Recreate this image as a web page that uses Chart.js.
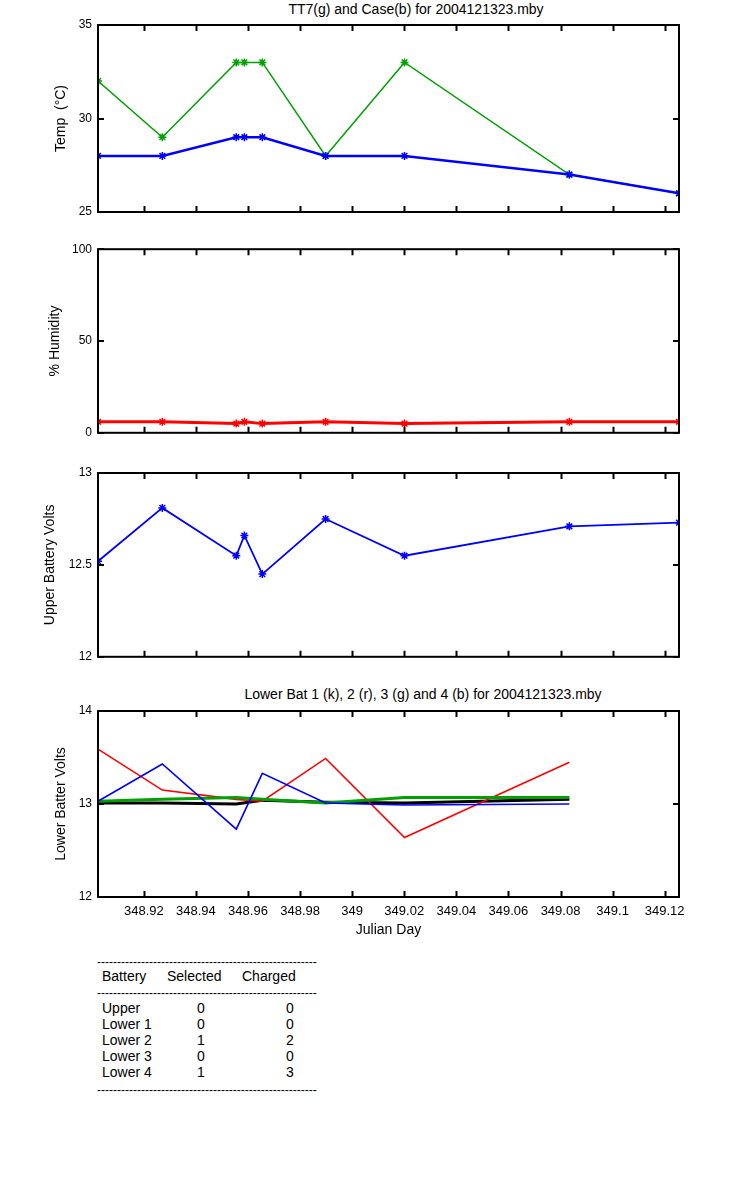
<!DOCTYPE html>
<html>
<head>
<meta charset="utf-8">
<title>TT7 and Case for 2004121323.mby</title>
<script src="https://cdn.jsdelivr.net/npm/chart.js@4.4.1/dist/chart.umd.min.js"></script>
<style>
    body { margin: 0; background: #fff; }
    #page { position: relative; width: 750px; height: 1200px; font-family: "Liberation Sans", Arial, sans-serif; color: #000; }
    canvas { position: absolute; left: 0; }
    .label { position: absolute; white-space: pre; font-size: 14px; line-height: 16px; }
    .dash { position: absolute; white-space: pre; font-size: 12px; line-height: 16px; }
    .title { position: absolute; white-space: pre; font-size: 14px; line-height: 16px; transform: translateX(-50%); }
</style>
</head>
<body>
<div id="page">
    <div class="title" style="left:416px; top:1px;">TT7(g) and Case(b) for 2004121323.mby</div>
    <canvas id="tempChart" width="750" height="240" style="top:0px"></canvas>
    <canvas id="humidityChart" width="750" height="210" style="top:236px"></canvas>
    <canvas id="upperChart" width="750" height="220" style="top:450px"></canvas>
    <div class="title" style="left:423px; top:686px;">Lower Bat 1 (k), 2 (r), 3 (g) and 4 (b) for 2004121323.mby</div>
    <canvas id="lowerChart" width="750" height="265" style="top:680px"></canvas>
    <div id="statusTable"></div>
</div>
<script>
// Sample times (Julian day) for the upper three panels
const julianDay = [348.9024, 348.9271, 348.9555, 348.9586, 348.9655, 348.9898, 349.0201, 349.0834, 349.1255];
const tt7Temp = [32, 29, 33, 33, 33, 28, 33, 27, 26];
const caseTemp = [28, 28, 29, 29, 29, 28, 28, 27, 26];
const humidity = [6, 6, 5, 6, 5, 6, 5, 6, 6];
const upperVolts = [12.52, 12.81, 12.55, 12.66, 12.45, 12.75, 12.55, 12.71, 12.73];

// Lower battery readings (fewer samples)
const lowerDay = [348.9024, 348.9271, 348.9555, 348.9655, 348.9898, 349.0201, 349.0834];
const lowerBat1 = [13.01, 13.01, 13.0, 13.04, 13.02, 13.01, 13.05];
const lowerBat2 = [13.59, 13.15, 13.05, 13.03, 13.49, 12.64, 13.45];
const lowerBat3 = [13.03, 13.05, 13.07, 13.05, 13.01, 13.07, 13.07];
const lowerBat4 = [13.03, 13.43, 12.73, 13.33, 13.01, 12.99, 13.0];

// Axis ticks
const xTicks = [348.92, 348.94, 348.96, 348.98, 349, 349.02, 349.04, 349.06, 349.08, 349.1, 349.12];
const tempTicks = [25, 30, 35];
const humidityTicks = [0, 50, 100];
const upperTicks = [12, 12.5, 13];
const lowerTicks = [12, 13, 14];

// Charge status table
const batteryNames = ["Upper", "Lower 1", "Lower 2", "Lower 3", "Lower 4"];
const selectedCounts = [0, 0, 1, 0, 1];
const chargedCounts = [0, 0, 2, 0, 3];

const FONT = "'Liberation Sans', Arial, sans-serif";
const GREEN = "#00a000";
const X_MIN = 348.9024;
const X_MAX = 349.1255;

function toPoints(xs, ys) {
    return xs.map((x, i) => ({ x: x, y: ys[i] }));
}

// Box round the plot with inward ticks on all four sides
const framePlugin = {
    id: "frame",
    afterDraw(chart) {
        const ctx = chart.ctx;
        const a = chart.chartArea;
        const xs = chart.scales.x;
        const ys = chart.scales.y;
        ctx.save();
        ctx.strokeStyle = "#000";
        ctx.lineWidth = 2;
        ctx.beginPath();
        xs.ticks.forEach(t => {
            const px = Math.round(xs.getPixelForValue(t.value)) + 0.5;
            ctx.moveTo(px, a.bottom);
            ctx.lineTo(px, a.bottom - 6);
            ctx.moveTo(px, a.top);
            ctx.lineTo(px, a.top + 6);
        });
        ys.ticks.forEach(t => {
            const py = Math.round(ys.getPixelForValue(t.value));
            ctx.moveTo(a.left, py);
            ctx.lineTo(a.left + 6, py);
            ctx.moveTo(a.right, py);
            ctx.lineTo(a.right - 6, py);
        });
        ctx.stroke();
        ctx.strokeRect(a.left, a.top, a.right - a.left, a.bottom - a.top);
        ctx.restore();
    }
};

function makePanel(id, datasets, opts) {
    const ctx = document.getElementById(id).getContext("2d");
    return new Chart(ctx, {
        type: "line",
        data: { datasets: datasets },
        plugins: [framePlugin],
        options: {
            responsive: false,
            animation: false,
            devicePixelRatio: 1,
            layout: { padding: { left: 0, right: 71, top: opts.padTop, bottom: 0 } },
            plugins: { legend: { display: false }, tooltip: { enabled: false }, title: { display: false } },
            elements: { line: { tension: 0 } },
            scales: {
                x: {
                    type: "linear",
                    min: X_MIN,
                    max: X_MAX,
                    afterBuildTicks: scale => { scale.ticks = xTicks.map(v => ({ value: v })); },
                    afterFit: scale => { scale.height = opts.xHeight; },
                    grid: { display: false, drawTicks: false },
                    border: { display: false },
                    ticks: {
                        display: !!opts.showX,
                        padding: 7,
                        color: "#000",
                        font: { family: FONT, size: 13 },
                        maxRotation: 0,
                        autoSkip: false,
                        callback: v => String(Number(v.toFixed(2)))
                    },
                    title: {
                        display: !!opts.showX,
                        text: "Julian Day",
                        color: "#000",
                        font: { family: FONT, size: 14 },
                        padding: { top: 0, bottom: 6 }
                    }
                },
                y: {
                    min: opts.yTicks[0],
                    max: opts.yTicks[opts.yTicks.length - 1],
                    afterBuildTicks: scale => { scale.ticks = opts.yTicks.map(v => ({ value: v })); },
                    afterFit: scale => { scale.width = 98; },
                    grid: { display: false, drawTicks: false },
                    border: { display: false },
                    ticks: {
                        padding: 6,
                        color: "#000",
                        font: { family: FONT, size: 12 },
                        callback: v => String(v)
                    },
                    title: {
                        display: true,
                        text: opts.yTitle,
                        color: "#000",
                        font: { family: FONT, size: 14 },
                        padding: { top: opts.yTitleX, bottom: 0 }
                    }
                }
            }
        }
    });
}

function markedLine(xs, ys, color, width, order) {
    return {
        data: toPoints(xs, ys),
        borderColor: color,
        backgroundColor: color,
        borderWidth: width,
        pointStyle: "star",
        pointRadius: 4,
        pointBorderWidth: 1.5,
        pointBorderColor: color,
        order: order
    };
}

function plainLine(ys, color, width, order) {
    return {
        data: toPoints(lowerDay, ys),
        borderColor: color,
        borderWidth: width,
        pointRadius: 0,
        order: order
    };
}

// Temperature panel: TT7 in green, case in blue
makePanel("tempChart", [
    markedLine(julianDay, tt7Temp, GREEN, 1.5, 2),
    markedLine(julianDay, caseTemp, "#0000ff", 2.5, 1)
], { padTop: 25, xHeight: 28, yTicks: tempTicks, yTitle: "Temp  (\u00B0C)", yTitleX: 53 });

// Humidity panel
makePanel("humidityChart", [
    markedLine(julianDay, humidity, "#ff0000", 3, 1)
], { padTop: 13, xHeight: 10, yTicks: humidityTicks, yTitle: "% Humidity", yTitleX: 47 });

// Upper battery panel
makePanel("upperChart", [
    markedLine(julianDay, upperVolts, "#0000ff", 1.8, 1)
], { padTop: 23, xHeight: 10, yTicks: upperTicks, yTitle: "Upper Battery Volts", yTitleX: 42 });

// Lower batteries 1-4 (k, r, g, b)
makePanel("lowerChart", [
    plainLine(lowerBat1, "#000000", 3, 4),
    plainLine(lowerBat2, "#ff0000", 1.6, 3),
    plainLine(lowerBat3, GREEN, 3, 2),
    plainLine(lowerBat4, "#0000ff", 1.6, 1)
], { padTop: 31, xHeight: 48, showX: true, yTicks: lowerTicks, yTitle: "Lower Batter Volts", yTitleX: 53 });

// Build the status table underneath
function addText(text, left, top, cls) {
    const div = document.createElement("div");
    div.className = cls || "label";
    div.style.left = left + "px";
    div.style.top = top + "px";
    div.textContent = text;
    document.getElementById("statusTable").appendChild(div);
    return div;
}

const dashes = "-".repeat(55);
addText(dashes, 97, 954, "dash");
addText("Battery", 102, 968);
addText("Selected", 167, 968);
addText("Charged", 242, 968);
addText(dashes, 97, 985, "dash");
batteryNames.forEach((name, i) => {
    const top = 1000 + i * 16;
    addText(name, 102, top);
    addText(String(selectedCounts[i]), 197, top);
    addText(String(chargedCounts[i]), 286, top);
});
addText(dashes, 97, 1082, "dash");
</script>
</body>
</html>
